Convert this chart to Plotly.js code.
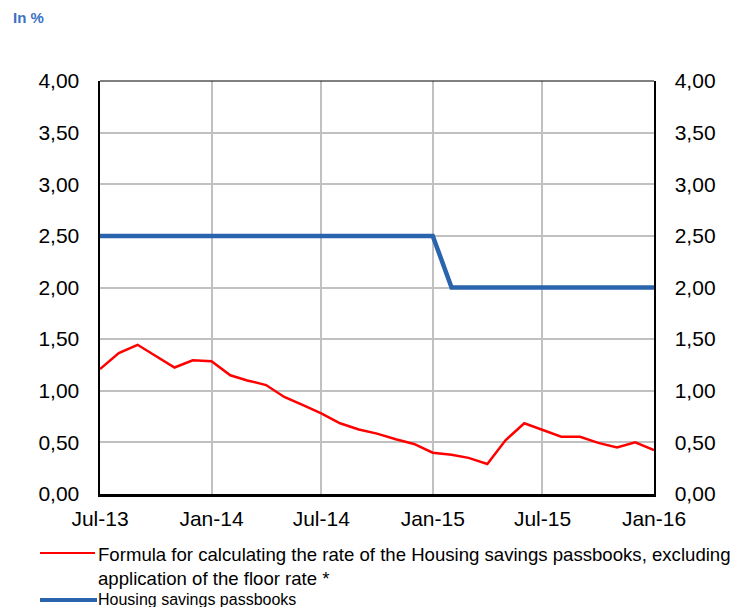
<!DOCTYPE html>
<html><head><meta charset="utf-8">
<script src="https://cdn.plot.ly/plotly-3.0.1.min.js"></script>
<style>html,body{margin:0;padding:0;background:#fff}#c{width:735px;height:607px}</style>
</head><body><div id="c"></div>
<script>
const months = ['2013-07-01','2013-08-01','2013-09-01','2013-10-01','2013-11-01','2013-12-01',
'2014-01-01','2014-02-01','2014-03-01','2014-04-01','2014-05-01','2014-06-01',
'2014-07-01','2014-08-01','2014-09-01','2014-10-01','2014-11-01','2014-12-01',
'2015-01-01','2015-02-01','2015-03-01','2015-04-01','2015-05-01','2015-06-01',
'2015-07-01','2015-08-01','2015-09-01','2015-10-01','2015-11-01','2015-12-01','2016-01-01'];
const formulaRate = [1.21,1.365,1.445,1.34,1.225,1.295,1.285,1.15,1.10,1.055,0.94,0.86,
0.78,0.685,0.625,0.585,0.53,0.485,0.40,0.38,0.35,0.29,0.52,0.685,0.62,0.555,0.555,0.495,0.45,0.50,0.425];
const passbookRate = [2.5,2.5,2.5,2.5,2.5,2.5,2.5,2.5,2.5,2.5,2.5,2.5,2.5,2.5,2.5,2.5,2.5,2.5,2.5,
2.0,2.0,2.0,2.0,2.0,2.0,2.0,2.0,2.0,2.0,2.0,2.0];
const yTicks = [0,0.5,1,1.5,2,2.5,3,3.5,4];
const seriesNames = ['Formula for calculating the rate of the Housing savings passbooks, excluding<br>application of the floor rate *','Housing savings passbooks'];

const F = 'Liberation Sans, Arial, sans-serif';
const N = 'Liberation Sans Narrow, Arial Narrow, sans-serif';
const PW = 554, PH = 413;
const traces = [
 {x: months, y: formulaRate, type:'scatter', mode:'lines', line:{color:'#ff0000', width:2.5}, name: seriesNames[0], showlegend:false},
 {x: months, y: passbookRate, type:'scatter', mode:'lines', line:{color:'#2a64ad', width:4.5}, name: seriesNames[1], showlegend:false, yaxis:'y2'}
];
const yax = {range:[0,4], tickvals:yTicks, tickformat:'.2f', showgrid:true, gridcolor:'#c0c0c0', gridwidth:2,
  zeroline:false, ticks:'', tickfont:{family:F, size:21, color:'#000'}, fixedrange:true};
const layout = {
 width:735, height:607, margin:{l:100, r:81, t:81, b:113},
 separators: ',.',
 paper_bgcolor:'#fff', plot_bgcolor:'#fff',
 font:{family:F, color:'#000'},
 xaxis:{type:'date', range:['2013-07-01','2016-01-01'], dtick:'M6', tick0:'2013-07-01', tickformat:'%b-%y',
   showgrid:true, gridcolor:'#c0c0c0', gridwidth:2, showline:true, linecolor:'#000', linewidth:2.5, ticks:'',
   tickfont:{family:F, size:21, color:'#000'}, zeroline:false, ticklabelstandoff:4},
 yaxis: Object.assign({}, yax, {showline:true, linecolor:'#000', linewidth:2.5, ticklabelstandoff:14}),
 yaxis2: Object.assign({}, yax, {overlaying:'y', side:'right', showgrid:false, showline:true, linecolor:'#000', linewidth:1.5, ticklabelstandoff:15}),
 shapes:[
  {type:'line', xref:'paper', yref:'paper', x0:0, x1:1, y0:1, y1:1, line:{color:'#000', width:1}},
  {type:'line', xref:'paper', yref:'paper', x0:-60/PW, x1:-5/PW, y0:-59/PH, y1:-59/PH, line:{color:'#ff0000', width:2}},
  {type:'line', xref:'paper', yref:'paper', x0:-60/PW, x1:-3/PW, y0:-106/PH, y1:-106/PH, line:{color:'#2a64ad', width:4}}
 ],
 annotations:[
  {text:'<b>In %</b>', xref:'paper', yref:'paper', x:-89/PW, y:1+63/PH, xanchor:'left', yanchor:'middle', showarrow:false, font:{family:F, size:15, color:'#3a72c4'}},
  {text:seriesNames[0], xref:'paper', yref:'paper', x:-4/PW, y:-48/PH, xanchor:'left', yanchor:'top', align:'left', showarrow:false, font:{family:N, size:18.6, color:'#000'}},
  {text:seriesNames[1], xref:'paper', yref:'paper', x:-4/PW, y:-105/PH, xanchor:'left', yanchor:'middle', align:'left', showarrow:false, font:{family:N, size:16, color:'#000'}}
 ]
};
Plotly.newPlot('c', traces, layout, {staticPlot:true});
</script></body></html>
